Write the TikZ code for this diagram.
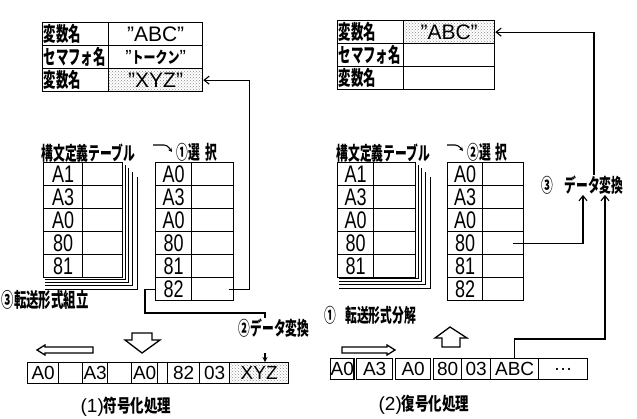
\documentclass[tikz,border=0pt]{standalone}
\usepackage{fontspec}
\setmainfont{Liberation Sans}
\newfontfamily\jpfont[FakeStretch=0.62]{Noto Sans CJK JP}
\newfontfamily\jpwide[FakeStretch=0.75]{Noto Sans CJK JP}
\newfontfamily\codefont[FakeStretch=0.75]{Liberation Sans}
\usetikzlibrary{arrows.meta,patterns,calc}
\newcommand{\fsz}[1]{\fontsize{#1}{#1}\selectfont}
\newcommand{\qm}{{\normalfont\fsz{19}”}}

\begin{document}
\begin{tikzpicture}[x=1pt,y=-1pt,line width=1.3pt,
  cell/.style={draw,anchor=north west,inner sep=0pt,minimum height=23pt},
  code/.style={cell,font=\codefont\fsz{24}},
  lab/.style={draw,anchor=north west,minimum height=23pt,text width=64pt,
              inner xsep=1pt,inner ysep=0pt,align=left,font=\jpfont\bfseries\fsz{20}},
  val/.style={cell,font=\fsz{21}},
  dotfill/.style={pattern=crosshatch dots,pattern color=black!45},
  byte/.style={cell,minimum height=21pt,font=\fsz{19}},
  title/.style={anchor=west,inner sep=0pt,font=\jpfont\bfseries\fsz{19}},
  caption/.style={inner sep=0pt,font=\jpwide\bfseries\fsz{18}},
  arr/.style={-{Straight Barb[length=5pt,width=8pt]},line width=1.1pt},
  hollow/.style={draw,line width=1.3pt,fill=white,line join=miter},
  sheet/.style={line width=1pt}
]
\useasboundingbox (0,0) rectangle (637,418);

% ---------- (1) encoding ----------
\node[lab] (varL-1) at (42,22) {変数名};
\node[val,minimum width=94pt] (varL-1-v) at (108,22) {”ABC”};
\node[lab] (varL-2) at (42,45) {セマフォ名};
\node[val,minimum width=94pt,font=\jpwide\bfseries\fsz{16}] (varL-2-v) at (108,45) {\qm トークン\qm};
\node[lab] (varL-3) at (42,68) {変数名};
\node[val,dotfill,minimum width=94pt] (varL-3-v) at (108,68) {”XYZ”};

\node[title] (synL-t) at (41,153) {構文定義テーブル};
\foreach \dx/\dy in {3/2,6/5,10/8,15/12}
  \draw[sheet] ([xshift=\dx pt,yshift=-\dx pt]122,162) |- (45,277+\dy);
\foreach \c [count=\i] in {A1,A3,A0,80,81}{
  \node[code,minimum width=39pt] (synL-\i) at (43,{139+23*\i}) {\c};
  \node[cell,minimum width=40pt] (synL-\i-v) at (82,{139+23*\i}) {};
}

\coordinate (hookL) at (153,145);
\draw[-{Stealth[length=4pt,width=4pt]},rounded corners=3pt,line width=1.1pt]
  (hookL) -- ++(14,0) -- ++(5,7);
\node[title] (selL-t) at (176,152) {①選\hspace{5pt}択};
\foreach \c [count=\i] in {A0,A3,A0,80,81,82}{
  \node[code,minimum width=36pt] (selL-\i) at (155,{139+23*\i}) {\c};
  \node[cell,minimum width=42pt] (selL-\i-v) at (191,{139+23*\i}) {};
}

\node[title,font=\jpfont\bfseries\fsz{20}] (packL) at (1,300) {③転送形式組立};
\node[caption,font=\jpfont\bfseries\fsz{19}] (convL) at (274,328) {②データ変換};
\coordinate (tapL) at (265,313);

\draw[hollow] (37,350) -- (45,345) -- (45,347) -- (93,347) -- (93,353)
  -- (45,353) -- (45,355) -- cycle;
\draw[hollow] (132,333) -- (152,333) -- (152,340) -- (160,340) -- (142,353)
  -- (125,340) -- (132,340) -- cycle;

\foreach \a/\b/\t [count=\i] in {27/58/A0,58/82/{},82/107/A3,107/131/{},
    131/157/A0,157/167/{},167/199/82,199/229/03}
  \node[byte,minimum width={(\b-\a)*1pt}] (stripL-\i) at (\a,362) {\t};
\node[byte,dotfill,minimum width=59pt] (stripL-xyz) at (229,362) {XYZ};

\draw[arr] ([xshift=16pt]selL-6-v.center) -| ([xshift=46pt]varL-3-v.east)
  -- (varL-3-v.east);
\draw[line width=1.1pt] (selL-6.west) -- ++(-10,0) |- (tapL) -- (tapL |- convL.north);
\draw[-{Stealth[length=5pt,width=5pt]},line width=1.1pt]
  ($(tapL |- stripL-xyz.north)+(0,-9)$) -- (tapL |- stripL-xyz.north);

\node[caption] (capL) at (126,407) {{\normalfont\fsz{19}(1)}符号化処理};

% ---------- (2) decoding ----------
\node[lab] (varR-1) at (337,20) {変数名};
\node[val,dotfill,minimum width=91pt] (varR-1-v) at (403,20) {”ABC”};
\node[lab] (varR-2) at (337,43) {セマフォ名};
\node[val,minimum width=91pt] (varR-2-v) at (403,43) {};
\node[lab] (varR-3) at (337,66) {変数名};
\node[val,minimum width=91pt] (varR-3-v) at (403,66) {};

\node[title] (synR-t) at (336,153) {構文定義テーブル};
\foreach \dx/\dy in {3/2,6/5,10/8,15/12}
  \draw[sheet] ([xshift=\dx pt,yshift=-\dx pt]415,162) |- (339,276+\dy);
\foreach \c [count=\i] in {A1,A3,A0,80,81}{
  \node[code,minimum width=36pt] (synR-\i) at (337,{139+23*\i}) {\c};
  \node[cell,minimum width=42pt] (synR-\i-v) at (373,{139+23*\i}) {};
}

\coordinate (hookR) at (447,145);
\draw[-{Stealth[length=4pt,width=4pt]},rounded corners=3pt,line width=1.1pt]
  (hookR) -- ++(11,0) -- ++(5,6);
\node[title] (selR-t) at (467,152) {②選\hspace{4pt}択};
\foreach \c [count=\i] in {A0,A3,A0,80,81,82}{
  \node[code,minimum width=35pt] (selR-\i) at (447,{139+23*\i}) {\c};
  \node[cell,minimum width=41pt] (selR-\i-v) at (482,{139+23*\i}) {};
}

\node[title] (unpackR) at (324,315) {①\hspace{9pt}転送形式分解};
\node[title] (num3R) at (541,185) {③};
\node[caption,font=\jpfont\bfseries\fsz{19}] (convR) at (594,185) {データ変換};

\draw[hollow] (395,350) -- (387,345) -- (387,347) -- (342,347) -- (342,353)
  -- (387,353) -- (387,355) -- cycle;
\draw[hollow] (442,347) -- (460,347) -- (460,338) -- (467,338) -- (450,327)
  -- (435,338) -- (442,338) -- cycle;

\foreach \a/\b/\t [count=\i] in {330/353/A0,356/392/A3,395/430/A0,
    433/461/80,461/490/03}
  \node[byte,minimum width={(\b-\a)*1pt}] (stripR-\i) at (\a,358) {\t};
\node[byte,minimum width=48pt] (stripR-abc) at (490,358) {ABC};
\node[byte,minimum width=49pt] (stripR-etc) at (538,358) {…};

\draw[arr] (convR.north) |- (varR-1-v.east);
\draw[arr] ([xshift=10pt]selR-4-v.center) -| ([xshift=-11pt]convR.south);
\draw[arr] (stripR-abc.north) -- ++(0,-19) -| ([xshift=11pt]convR.south);

\node[caption] (capR) at (424,405) {{\normalfont\fsz{19}(2)}復号化処理};
\end{tikzpicture}
\end{document}
